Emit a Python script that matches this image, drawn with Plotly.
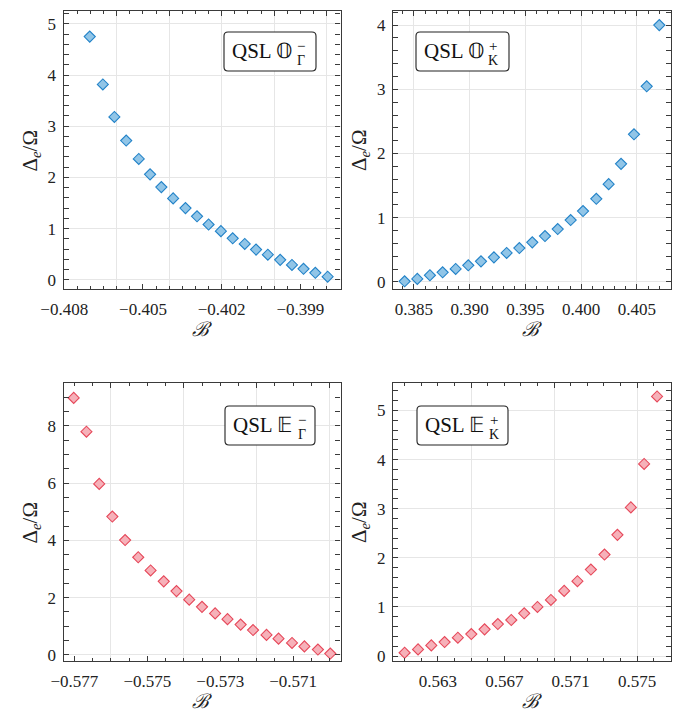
import plotly.graph_objects as go

# ---------------- data ----------------
B_OG = [-0.40703, -0.40653, -0.40609, -0.40564, -0.40516, -0.40473, -0.40430,
        -0.40385, -0.40338, -0.40294, -0.40250, -0.40203, -0.40158, -0.40112,
        -0.40069, -0.40024, -0.39977, -0.39932, -0.39888, -0.39843, -0.39796]
GAP_OG = [4.75, 3.815, 3.18, 2.72, 2.36, 2.06, 1.81, 1.59, 1.40, 1.24, 1.08,
          0.95, 0.81, 0.70, 0.59, 0.49, 0.39, 0.29, 0.215, 0.137, 0.06]

B_OK = [0.38416, 0.38530, 0.38643, 0.38757, 0.38874, 0.38987, 0.39101,
        0.39217, 0.39331, 0.39445, 0.39561, 0.39675, 0.39789, 0.39905,
        0.40016, 0.40135, 0.40246, 0.40357, 0.40473, 0.40587, 0.40700]
GAP_OK = [0.01, 0.047, 0.104, 0.150, 0.202, 0.259, 0.321, 0.383, 0.451, 0.528,
          0.617, 0.715, 0.824, 0.964, 1.104, 1.295, 1.523, 1.839, 2.30, 3.047, 4.0]

B_EG = [-0.57702, -0.57667, -0.57632, -0.57596, -0.57561, -0.57525, -0.57491,
        -0.57455, -0.57420, -0.57385, -0.57350, -0.57314, -0.57280, -0.57244,
        -0.57210, -0.57173, -0.57140, -0.57103, -0.57069, -0.57032, -0.56998]
GAP_EG = [8.97, 7.79, 5.97, 4.83, 4.01, 3.41, 2.95, 2.57, 2.23, 1.93, 1.68,
          1.45, 1.25, 1.06, 0.87, 0.70, 0.57, 0.42, 0.30, 0.19, 0.05]

B_EK = [0.56099, 0.56180, 0.56260, 0.56340, 0.56420, 0.56501, 0.56581,
        0.56661, 0.56742, 0.56820, 0.56900, 0.56981, 0.57061, 0.57141,
        0.57222, 0.57304, 0.57382, 0.57463, 0.57543, 0.57621]
GAP_EK = [0.068, 0.136, 0.218, 0.286, 0.374, 0.449, 0.544, 0.653, 0.735, 0.871,
          1.0, 1.143, 1.327, 1.524, 1.762, 2.068, 2.469, 3.027, 3.912, 5.286]

# tick labels (bottom) and grid positions (top ticks)
XTICKS_OG = [-0.408, -0.405, -0.402, -0.399]
XTEXT_OG = ["\u22120.408", "\u22120.405", "\u22120.402", "\u22120.399"]
XGRID_OG = [-0.406, -0.404, -0.402, -0.400, -0.398]

XTICKS_OK = [0.385, 0.390, 0.395, 0.400, 0.405]
XTEXT_OK = ["0.385", "0.390", "0.395", "0.400", "0.405"]
XGRID_OK = [0.385, 0.390, 0.395, 0.400, 0.405]

XTICKS_EG = [-0.577, -0.575, -0.573, -0.571]
XTEXT_EG = ["\u22120.577", "\u22120.575", "\u22120.573", "\u22120.571"]
XGRID_EG = [-0.576, -0.574, -0.572, -0.570]

XTICKS_EK = [0.563, 0.567, 0.571, 0.575]
XTEXT_EK = ["0.563", "0.567", "0.571", "0.575"]
XGRID_EK = [0.565, 0.570, 0.575]

# ---------------- style ----------------
W, H = 693, 715
FONT = "Liberation Serif"
AXC = "#3a3a3a"
GRIDC = "#e6e6e6"
TXT = "#222222"
BLUE_FILL, BLUE_EDGE = "#91c5e7", "#2383c8"
RED_FILL, RED_EDGE = "#f6b1b9", "#e6485a"

def px(x):
    return x / W

def py(y):
    return 1 - y / H

panels = [
    dict(x=B_OG, y=GAP_OG, fill=BLUE_FILL, edge=BLUE_EDGE,
         xdom=(55.5, 332.5), ydom=(281, 3), xr=[-0.40803, -0.39747], yr=[-0.18, 5.25],
         ydt=1, ymin=0.2, xt=XTICKS_OG, xtt=XTEXT_OG, xg=XGRID_OG, xmin=0.0005,
         box=(216, 308, 24, 63), letter="\U0001D546", sup="\u2212", sub="\u0393"),
    dict(x=B_OK, y=GAP_OK, fill=BLUE_FILL, edge=BLUE_EDGE,
         xdom=(385, 663), ydom=(281, 3), xr=[0.38312, 0.40805], yr=[-0.11, 4.22],
         ydt=1, ymin=0.2, xt=XTICKS_OK, xtt=XTEXT_OK, xg=XGRID_OK, xmin=0.001,
         box=(408, 501, 24, 63), letter="\U0001D546", sup="+", sub="K"),
    dict(x=B_EG, y=GAP_EG, fill=RED_FILL, edge=RED_EDGE,
         xdom=(55.5, 332.5), ydom=(653, 375), xr=[-0.5773, -0.5697], yr=[-0.21, 9.49],
         ydt=2, ymin=0.5, xt=XTICKS_EG, xtt=XTEXT_EG, xg=XGRID_EG, xmin=0.0005,
         box=(217, 307, 398, 437), letter="\U0001D53C", sup="\u2212", sub="\u0393"),
    dict(x=B_EK, y=GAP_EK, fill=RED_FILL, edge=RED_EDGE,
         xdom=(385, 663), ydom=(653, 375), xr=[0.56029, 0.57705], yr=[-0.10, 5.56],
         ydt=1, ymin=0.2, xt=XTICKS_EK, xtt=XTEXT_EK, xg=XGRID_EK, xmin=0.001,
         box=(409, 500, 398, 437), letter="\U0001D53C", sup="+", sub="K"),
]

fig = go.Figure()
layout = dict(
    width=W, height=H, margin=dict(l=0, r=0, t=0, b=0, autoexpand=False),
    paper_bgcolor="white", plot_bgcolor="white", showlegend=False,
    font=dict(family=FONT, size=17, color=TXT),
)
shapes = []
annotations = []

for i, p in enumerate(panels):
    n = i + 1
    xa = "x" if n == 1 else f"x{n}"
    ya = "y" if n == 1 else f"y{n}"
    xk = "xaxis" if n == 1 else f"xaxis{n}"
    yk = "yaxis" if n == 1 else f"yaxis{n}"
    ov = n + 4
    xov = f"x{ov}"
    fig.add_trace(go.Scatter(
        x=p["x"], y=p["y"], mode="markers", xaxis=xa, yaxis=ya,
        marker=dict(symbol="diamond", size=8.5, color=p["fill"],
                    line=dict(color=p["edge"], width=1.1)),
        hoverinfo="x+y"))
    # dummy trace to realise overlay (top) axis
    fig.add_trace(go.Scatter(x=[None], y=[None], xaxis=xov, yaxis=ya,
                             mode="markers", showlegend=False, hoverinfo="skip"))
    xdom = [px(p["xdom"][0]), px(p["xdom"][1])]
    ydom = [py(p["ydom"][0]), py(p["ydom"][1])]
    layout[xk] = dict(
        domain=xdom, anchor=ya, range=p["xr"], tickmode="array", automargin=False,
        tickvals=p["xt"], ticktext=p["xtt"], ticks="inside", ticklen=5,
        tickwidth=1, tickcolor=AXC, showgrid=False, zeroline=False,
        showline=True, linecolor=AXC, linewidth=1.2, mirror=True,
        ticklabelstandoff=4,
        tickfont=dict(family=FONT, size=17, color=TXT),
        minor=dict(ticks="inside", ticklen=2.5, tickwidth=1, tickcolor=AXC,
                   tick0=p["xg"][0], dtick=p["xmin"], showgrid=False),
    )
    layout[f"xaxis{ov}"] = dict(
        overlaying=xa, matches=xa, anchor=ya, side="top", range=p["xr"],
        tickmode="array", tickvals=p["xg"], showticklabels=False, automargin=False,
        ticks="inside", ticklen=5, tickwidth=1, tickcolor=AXC,
        showgrid=True, gridcolor=GRIDC, gridwidth=1, zeroline=False,
        showline=False,
        minor=dict(ticks="inside", ticklen=2.5, tickwidth=1, tickcolor=AXC,
                   tick0=p["xg"][0], dtick=p["xmin"], showgrid=False),
    )
    layout[yk] = dict(
        domain=ydom, anchor=xa, range=p["yr"], tick0=0, dtick=p["ydt"],
        ticks="inside", ticklen=5, tickwidth=1, tickcolor=AXC, automargin=False,
        showgrid=True, gridcolor=GRIDC, gridwidth=1, zeroline=False,
        showline=True, linecolor=AXC, linewidth=1.2, mirror="allticks",
        ticklabelstandoff=3,
        tickfont=dict(family=FONT, size=17, color=TXT),
        minor=dict(ticks="inside", ticklen=2.5, tickwidth=1, tickcolor=AXC,
                   dtick=p["ymin"], showgrid=False),
    )
    # axis titles
    xc = (p["xdom"][0] + p["xdom"][1]) / 2
    yc = (p["ydom"][0] + p["ydom"][1]) / 2
    annotations.append(dict(
        text="<i>\u212C</i>", x=px(xc), y=py(p["ydom"][0] + 40), xref="paper",
        yref="paper", showarrow=False, xanchor="center", yanchor="middle",
        font=dict(family=FONT, size=20, color=TXT)))
    annotations.append(dict(
        text="\u0394<sub><i>e</i></sub>/\u03A9", x=px(p["xdom"][0] - 33),
        y=py(yc), xref="paper", yref="paper", showarrow=False, textangle=-90,
        xanchor="center", yanchor="middle",
        font=dict(family=FONT, size=21, color=TXT)))
    # label box with rounded corners
    bx0, bx1, by0, by1 = p["box"]
    r = 4
    X0, X1 = px(bx0), px(bx1)
    Y0, Y1 = py(by1), py(by0)
    rx, ry = r / W, r / H
    path = (f"M {X0+rx},{Y0} L {X1-rx},{Y0} Q {X1},{Y0} {X1},{Y0+ry} "
            f"L {X1},{Y1-ry} Q {X1},{Y1} {X1-rx},{Y1} L {X0+rx},{Y1} "
            f"Q {X0},{Y1} {X0},{Y1-ry} L {X0},{Y0+ry} Q {X0},{Y0} {X0+rx},{Y0} Z")
    shapes.append(dict(type="path", path=path, xref="paper", yref="paper",
                       line=dict(color="#222222", width=1.1),
                       fillcolor="white", layer="above"))
    annotations.append(dict(
        text="QSL " + p["letter"], x=px(bx0 + 6), y=py(by0 + 19),
        xref="paper", yref="paper", showarrow=False, xanchor="left",
        yanchor="middle", font=dict(family=FONT, size=21, color="#111111")))
    annotations.append(dict(
        text=p["sup"], x=px(bx0 + 77), y=py(by0 + 14), xref="paper",
        yref="paper", showarrow=False, xanchor="center", yanchor="middle",
        font=dict(family=FONT, size=15, color="#111111")))
    annotations.append(dict(
        text=p["sub"], x=px(bx0 + 77), y=py(by0 + 28), xref="paper",
        yref="paper", showarrow=False, xanchor="center", yanchor="middle",
        font=dict(family=FONT, size=14, color="#111111")))

layout["shapes"] = shapes
layout["annotations"] = annotations
fig.update_layout(**layout)
fig.write_html("out.html")
